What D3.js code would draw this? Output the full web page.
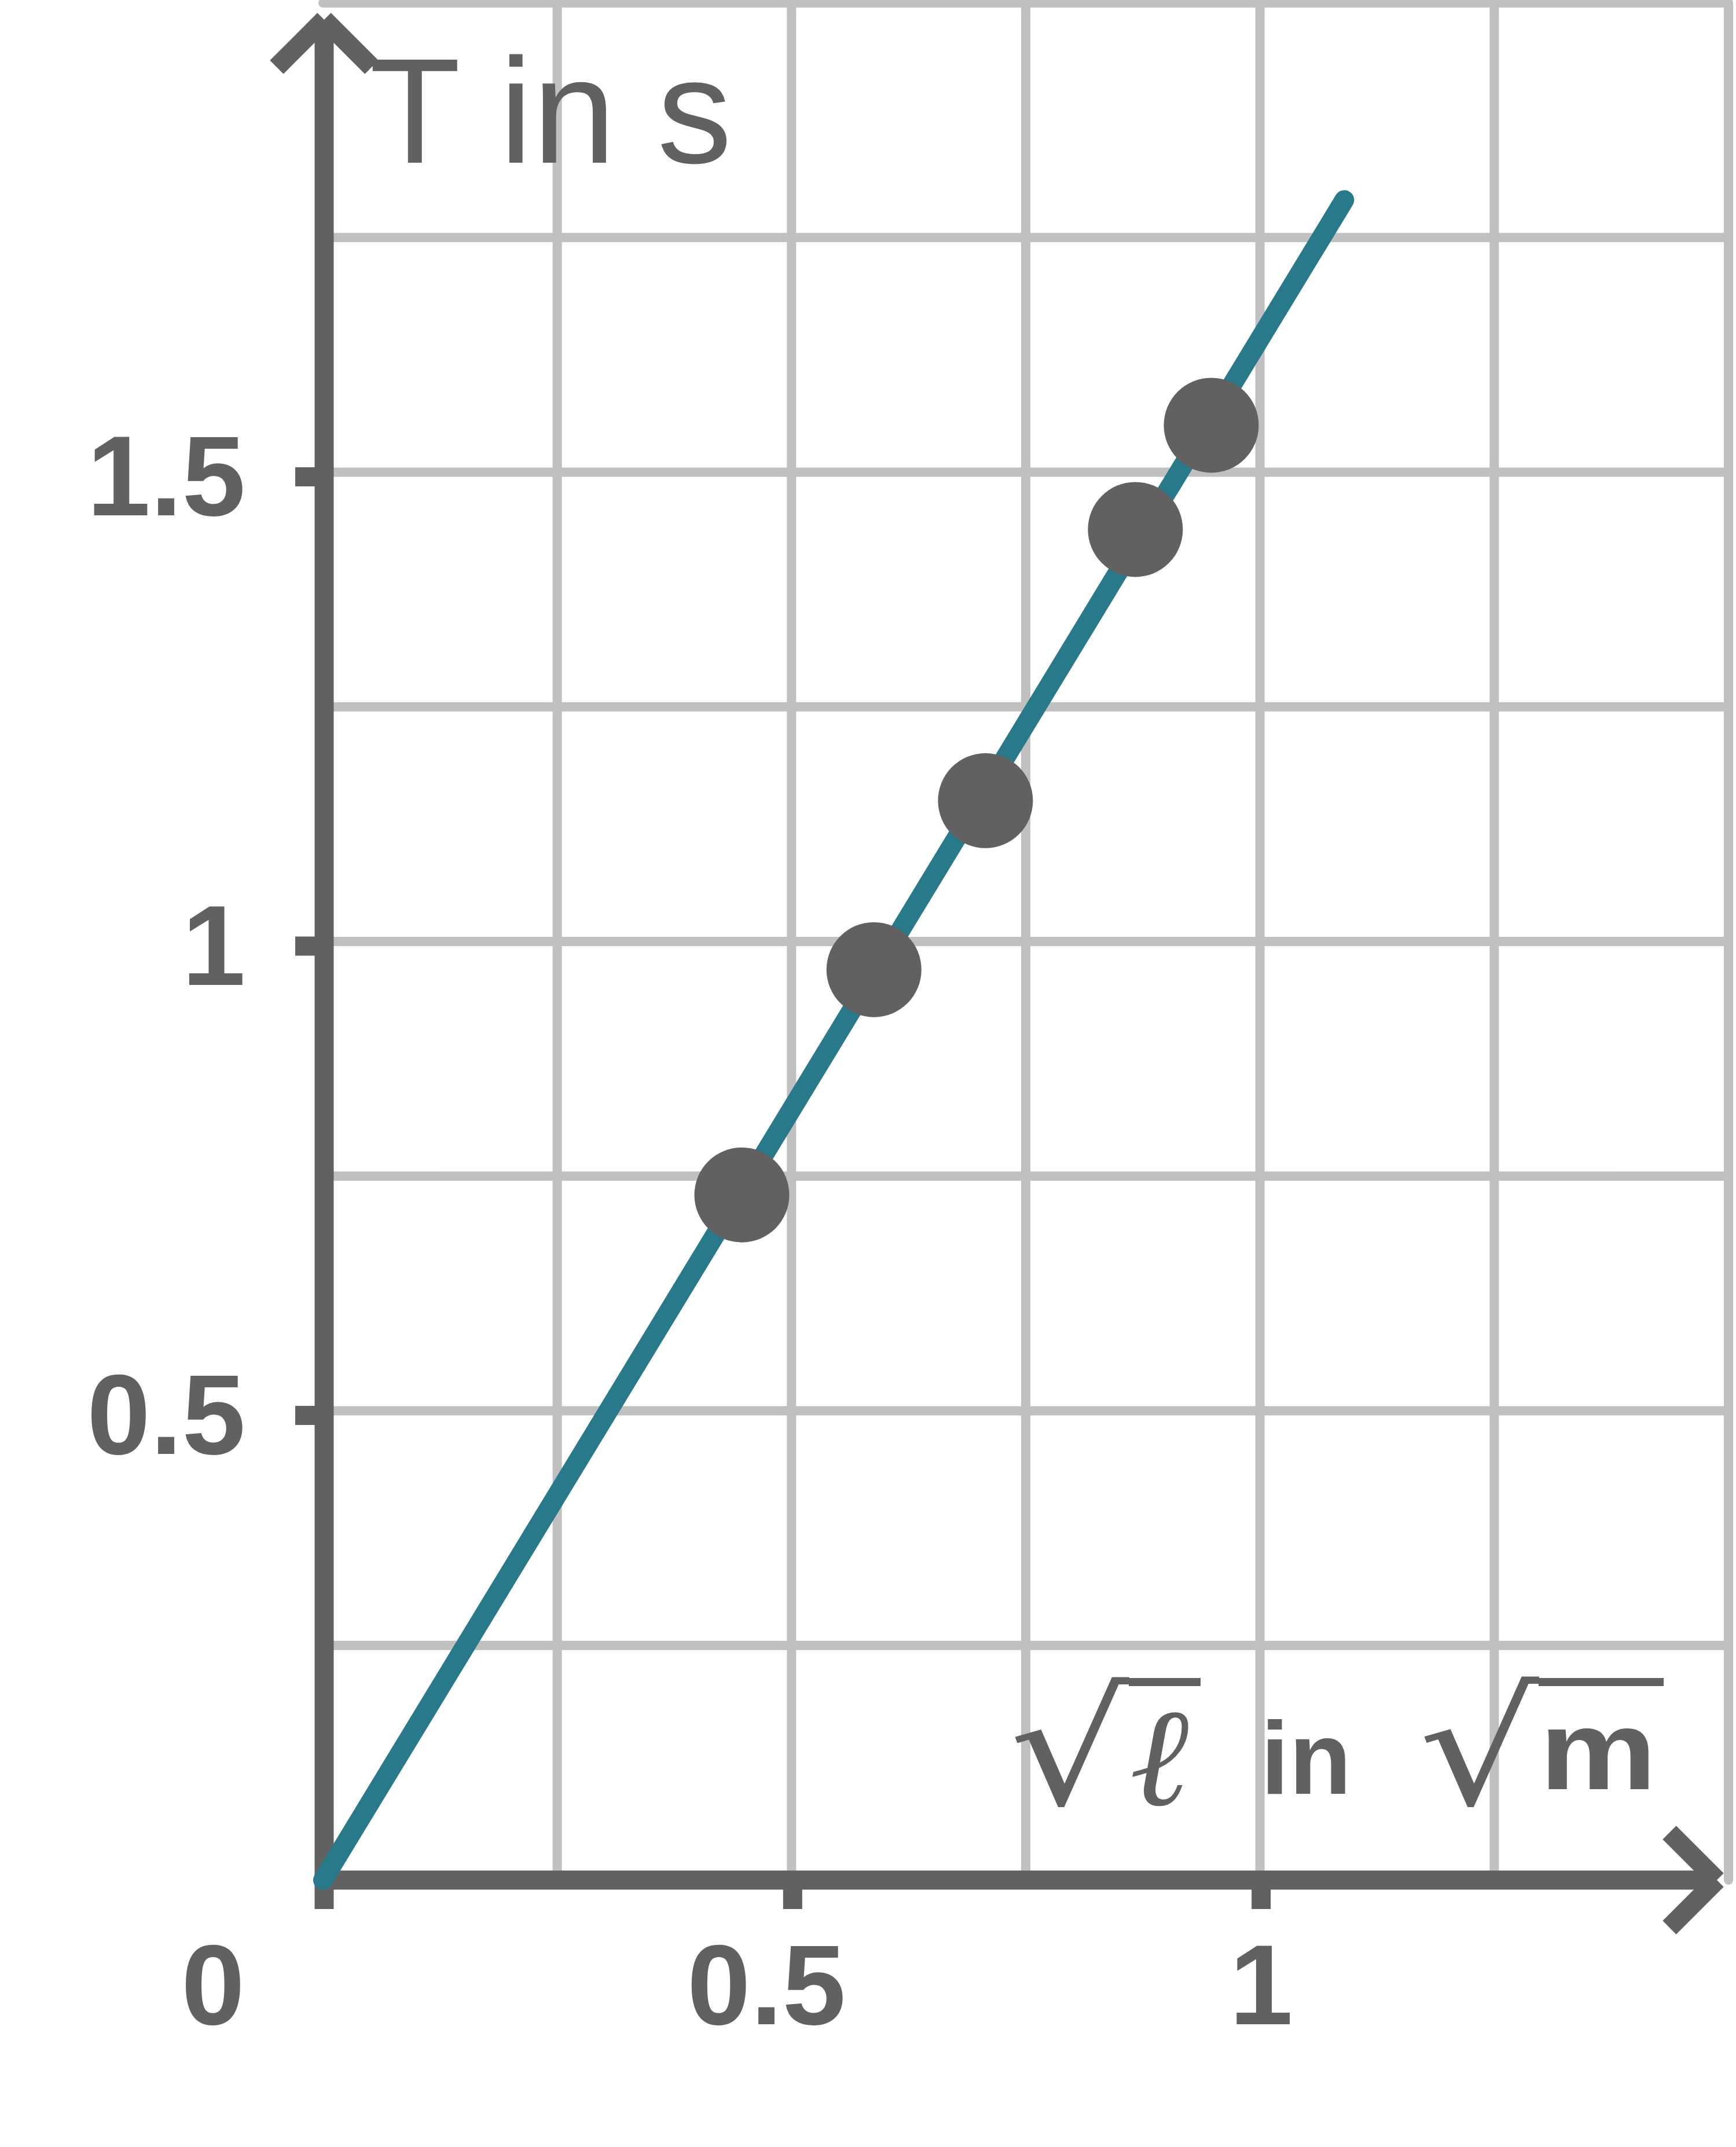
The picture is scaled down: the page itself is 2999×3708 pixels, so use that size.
<!DOCTYPE html>
<html>
<head>
<meta charset="utf-8">
<script src="https://cdn.jsdelivr.net/npm/d3@7"></script>
<style>
  body { margin: 0; background: #fff; }
  svg { display: block; }
</style>
</head>
<body>
<svg id="chart" width="2999" height="3708"></svg>
<script>
// measured points: sqrt(length) in sqrt(m) against period in s
const sqrtLength = [0.447, 0.588, 0.707, 0.867, 0.948];
const period = [0.730, 0.970, 1.150, 1.439, 1.550];

// proportional fit line
const fitX = [0, 1.09];
const fitY = [0, 1.79];

const xTicks = [0.5, 1];
const xTickLabels = ['0.5', '1'];
const yTicks = [0.5, 1, 1.5];
const yTickLabels = ['0.5', '1', '1.5'];
const originLabel = '0';
const gridX = [0.25, 0.5, 0.75, 1, 1.25];
const gridY = [0.25, 0.5, 0.75, 1, 1.25, 1.5, 1.75];
const xMax = 1.5;
const yMax = 2;

const yTitle = 'T in s';
const xTitleParts = ['√', 'ℓ', 'in', '√', 'm'];

const axisColor = '#616161';
const gridColor = '#c0c0c0';
const lineColor = '#28798a';
const sans = '"Liberation Sans", Arial, Helvetica, sans-serif';

const svg = d3.select('#chart');

const x = d3.scaleLinear().domain([0, xMax]).range([558, 2986]);
const y = d3.scaleLinear().domain([0, yMax]).range([3247, 5]);

// ink box of a string, measured on a canvas at 1000px
const ctx = document.createElement('canvas').getContext('2d');
function inkBox(text, font) {
  ctx.font = font;
  const m = ctx.measureText(text);
  return {
    l: m.actualBoundingBoxLeft,
    r: m.actualBoundingBoxRight,
    a: m.actualBoundingBoxAscent,
    d: m.actualBoundingBoxDescent
  };
}

// place a text so that its ink fills the given box
function fitText(parent, text, f, box, stretch) {
  const b = inkBox(text, `${f.style || 'normal'} ${f.weight || 'normal'} 1000px ${f.family}`);
  const sy = (box[3] - box[1]) / (b.a + b.d);
  const sx = stretch ? (box[2] - box[0]) / (b.l + b.r) : sy;
  parent.append('text')
    .text(text)
    .attr('font-family', f.family)
    .attr('font-weight', f.weight || 'normal')
    .attr('font-style', f.style || 'normal')
    .attr('font-size', 1000)
    .attr('fill', axisColor)
    .attr('transform', `translate(${box[0] + b.l * sx},${box[3] - b.d * sy}) scale(${sx},${sy})`);
}

// grid
const grid = svg.append('g')
  .attr('stroke', gridColor)
  .attr('stroke-width', 16)
  .attr('stroke-linecap', 'round');
grid.selectAll('line.gx').data(gridX.concat([xMax])).enter()
  .append('line')
  .attr('x1', (d) => x(d))
  .attr('x2', (d) => x(d))
  .attr('y1', y(0))
  .attr('y2', y(yMax));
grid.selectAll('line.gy').data(gridY.concat([yMax])).enter()
  .append('line')
  .attr('y1', (d) => y(d))
  .attr('y2', (d) => y(d))
  .attr('x1', x(0))
  .attr('x2', x(xMax));

// ticks and tick labels
const xAxis = d3.axisBottom(x)
  .tickValues(xTicks)
  .tickFormat((d, i) => xTickLabels[i])
  .tickSize(50)
  .tickPadding(59)
  .offset(2);
svg.append('g')
  .attr('transform', `translate(0,${y(0)})`)
  .call(xAxis)
  .call((g) => {
    g.select('.domain').remove();
    g.attr('font-size', 197).attr('font-family', sans).attr('font-weight', 'bold');
    g.selectAll('.tick line').attr('stroke', axisColor).attr('stroke-width', 33);
    g.selectAll('.tick text').attr('fill', axisColor).attr('dx', (d) => (d % 1 ? '-0.23em' : 0));
  });

const yAxis = d3.axisLeft(y)
  .tickValues(yTicks)
  .tickFormat((d, i) => yTickLabels[i])
  .tickSize(50)
  .tickPadding(86)
  .offset(8);
svg.append('g')
  .attr('transform', `translate(${x(0) + 2},0)`)
  .call(yAxis)
  .call((g) => {
    g.select('.domain').remove();
    g.attr('font-size', 197).attr('font-family', sans).attr('font-weight', 'bold');
    g.selectAll('.tick line').attr('stroke', axisColor).attr('stroke-width', 33);
    g.selectAll('.tick text').attr('fill', axisColor).attr('dy', '0.34em');
  });

svg.append('text')
  .text(originLabel)
  .attr('x', x(0) - 190)
  .attr('y', y(0) + 249)
  .attr('text-anchor', 'middle')
  .attr('font-family', sans)
  .attr('font-weight', 'bold')
  .attr('font-size', 197)
  .attr('fill', axisColor);

// axis lines with open arrow heads
const xTip = 2966;
const yTip = 34;
const arm = 82;
const ax = x(0) + 2;
const axes = svg.append('g')
  .attr('stroke', axisColor)
  .attr('stroke-width', 33)
  .attr('fill', 'none');
axes.append('line').attr('x1', ax).attr('x2', ax).attr('y1', y(0) + 50).attr('y2', yTip);
axes.append('line').attr('x1', x(0)).attr('x2', xTip).attr('y1', y(0)).attr('y2', y(0));
[-1, 1].forEach((s) => {
  axes.append('line').attr('x1', ax).attr('y1', yTip).attr('x2', ax + s * arm).attr('y2', yTip + arm);
  axes.append('line').attr('x1', xTip).attr('y1', y(0)).attr('x2', xTip - arm).attr('y2', y(0) + s * arm);
});

// fit line
const line = d3.line()
  .x((d) => x(d[0]))
  .y((d) => y(d[1]));
svg.append('path')
  .datum(d3.zip(fitX, fitY))
  .attr('d', line)
  .attr('fill', 'none')
  .attr('stroke', lineColor)
  .attr('stroke-width', 34)
  .attr('stroke-linecap', 'round');

// measured points
svg.append('g').selectAll('circle').data(d3.zip(sqrtLength, period)).enter()
  .append('circle')
  .attr('cx', (d) => x(d[0]))
  .attr('cy', (d) => y(d[1]))
  .attr('r', 82)
  .attr('fill', axisColor);

// axis titles
const titles = svg.append('g');
fitText(titles, yTitle, { family: sans }, [642, 91, 1261, 285], true);

const serif = '"DejaVu Serif", "Liberation Serif", serif';
const partFonts = [
  { family: serif },
  { family: serif, style: 'italic' },
  { family: sans, weight: 'bold' },
  { family: serif },
  { family: sans, weight: 'bold' }
];
const partBoxes = [
  [1749, 2896, 1952, 3124],
  [1955, 2956, 2055, 3121],
  [2189, 2967, 2326, 3098],
  [2456, 2895, 2660, 3124],
  [2674, 2983, 2848, 3090]
];
xTitleParts.forEach((t, i) => fitText(titles, t, partFonts[i], partBoxes[i], true));

// radical bars
titles.selectAll('line').data([[1950, 2074], [2658, 2874]]).enter()
  .append('line')
  .attr('x1', (d) => d[0])
  .attr('x2', (d) => d[1])
  .attr('y1', 2905)
  .attr('y2', 2905)
  .attr('stroke', axisColor)
  .attr('stroke-width', 14);
</script>
</body>
</html>
